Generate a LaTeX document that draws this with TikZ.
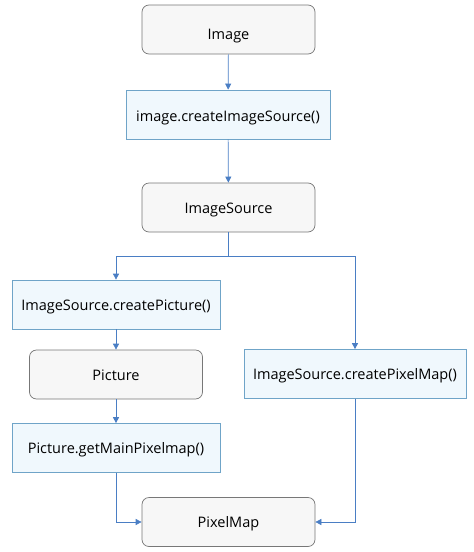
\documentclass[tikz,border=0pt]{standalone}
\usepackage{fontspec}
\setmainfont{Open Sans}
\usetikzlibrary{arrows.meta}
\definecolor{boxgray}{HTML}{F7F7F7}
\definecolor{edgegray}{HTML}{777777}
\definecolor{callfill}{HTML}{F0F8FD}
\definecolor{calledge}{HTML}{6FA4C8}
\definecolor{flowblue}{HTML}{4A7EC4}
\begin{document}
\begin{tikzpicture}[x=1pt,y=-1pt,
  obj/.style={draw=edgegray, fill=boxgray, line width=0.7pt, rounded corners=7pt, minimum width=173pt, minimum height=49pt, text height=11pt, text depth=0pt, font=\fontsize{14.5}{16}\selectfont},
  call/.style={draw=calledge, fill=callfill, line width=0.7pt, minimum height=49pt, text height=11pt, text depth=0pt, font=\fontsize{14.5}{16}\selectfont},
  flow/.style={-{Triangle[length=6pt,width=6pt]}, flowblue, line width=0.7pt}]
\useasboundingbox (0,0) rectangle (474,552);
%%% object boxes
\node[obj, text height=19pt] (image) at (228.5, 29.5) {Image};
\node[obj] (src) at (228.5, 207.5) {ImageSource};
\node[obj] (pic) at (116, 374.5) {Picture};
\node[obj] (pmap) at (228.5, 522) {PixelMap};
%%% calls
\node[call, minimum width=204pt, text height=14pt] (create) at (228, 114.5) {image.createImageSource()};
\node[call, minimum width=208pt] (cpic) at (116, 304.5) {ImageSource.createPicture()};
\node[call, minimum width=222pt] (cpmap) at (355, 374) {ImageSource.createPixelMap()};
\node[call, minimum width=208pt] (getmain) at (116, 448) {Picture.getMainPixelmap()};
%Dependency between the boxes
\coordinate (fork) at (228.5, 256);
\draw[flow] (image) -- (create);
\draw[flow] (create) -- (src);
\draw[flowblue, line width=0.7pt] (src) -- (fork);
\draw[flow] (fork) -| (cpic);
\draw[flow] (fork) -| (cpmap);
\draw[flow] (cpic) -- (pic);
\draw[flow] (pic) -- (getmain);
\draw[flow] (getmain) |- (pmap);
\draw[flow] (cpmap) |- (pmap);
\end{tikzpicture}
\end{document}
